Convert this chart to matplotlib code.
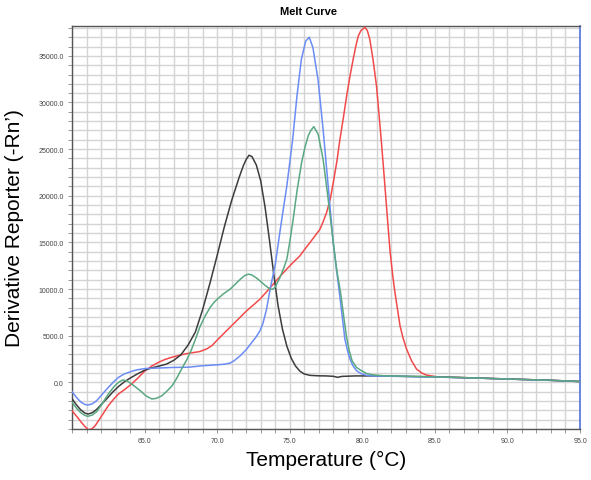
import matplotlib
matplotlib.use("Agg")
import matplotlib.pyplot as plt
from matplotlib.ticker import MultipleLocator, FixedLocator

plt.rcParams['font.family'] = ['Liberation Sans', 'DejaVu Sans']

# ---- data ----
black_t = [60.0, 60.3, 60.6, 60.9, 61.1, 61.4, 61.7, 62.0, 62.4, 62.8, 63.2, 63.6, 64.0, 64.5,
           65.0, 65.5, 66.0, 66.5, 67.0, 67.5, 68.0, 68.5, 69.0, 69.5, 70.0, 70.5, 71.0, 71.5,
           71.8, 72.0, 72.2, 72.4, 72.7, 73.0, 73.3, 73.6, 73.9, 74.2, 74.5, 74.8, 75.1, 75.4,
           75.7, 76.0, 76.4, 77.0, 77.5, 78.0, 78.3, 78.6, 79.5, 81.0, 85.0, 88.0, 90.0, 93.0,
           95.0]
black_v = [-1750, -2400, -2950, -3300, -3400, -3250, -2900, -2400, -1750, -1050, -450, 50, 450, 900,
           1300, 1550, 1750, 1950, 2350, 2950, 4000, 5400, 7800, 10600, 13600, 16700, 19500, 21900,
           23200, 23900, 24350, 24200, 23300, 21600, 18800, 15300, 11600, 8200, 5700, 3900, 2600, 1750,
           1200, 900, 750, 700, 690, 650, 540, 640, 690, 690, 590, 460, 360, 220,
           90]

blue_t = [60.0, 60.3, 60.6, 60.9, 61.1, 61.4, 61.7, 62.1, 62.5, 62.9, 63.2, 63.6, 64.1, 64.5,
          65.0, 65.5, 66.0, 67.0, 68.0, 69.0, 70.0, 70.5, 70.9, 71.2, 71.6, 72.0, 72.3, 72.7,
          72.95, 73.15, 73.4, 73.65, 74.0, 74.35, 74.8, 75.2, 75.5, 75.8, 76.1, 76.35, 76.6,
          76.95, 77.3, 77.65, 78.0, 78.45, 78.8, 79.0, 79.15, 79.35, 79.6, 79.9, 80.3, 80.8,
          85.0, 88.0, 90.0, 93.0, 95.0]
blue_v = [-1000, -1600, -2100, -2380, -2430, -2300, -1960, -1250, -540, 100, 530, 900, 1180, 1350,
          1470, 1520, 1540, 1600, 1620, 1780, 1880, 1950, 2070, 2350, 2860, 3500, 4100, 4900,
          5530, 6300, 7800, 9990, 12600, 16400, 21050, 26000, 30700, 34600, 36580, 37000, 35870,
          32470, 27120, 21050, 14900, 9270, 4640, 3300, 2500, 1800, 1250, 950, 750, 690,
          570, 450, 350, 210, 80]

green_t = [60.0, 60.3, 60.6, 60.9, 61.1, 61.4, 61.7, 62.1, 62.5, 62.9, 63.2, 63.5, 63.8, 64.1,
           64.4, 64.7, 65.1, 65.5, 65.8, 66.2, 66.5, 66.9, 67.2, 67.55, 67.9, 68.2, 68.5, 68.8,
           69.1, 69.5, 69.8, 70.0, 70.4, 70.9, 71.3, 71.6, 71.9, 72.15, 72.4, 72.7, 72.95, 73.3,
           73.65, 73.85, 74.0, 74.33, 74.6, 74.8, 75.0, 75.24, 75.5, 75.82, 76.05, 76.27, 76.45,
           76.66, 76.96, 77.3, 77.65, 78.0, 78.23, 78.5, 78.9, 79.1, 79.3, 79.6, 79.95, 80.3,
           80.7, 81.5, 85.0, 88.0, 90.0, 93.0, 95.0]
green_v = [-2140, -2750, -3250, -3560, -3640, -3500, -3140, -2250, -1250, -450, 0, 260, 150, -180,
           -520, -890, -1450, -1780, -1720, -1430, -1000, -360, 400, 1430, 2400, 3390, 4600, 5900,
           6900, 8000, 8600, 8900, 9450, 10000, 10600, 11060, 11450, 11600, 11500, 11200, 10880, 10400,
           9990, 10000, 10200, 11240, 12300, 13200, 15000, 17500, 20500, 23560, 25200, 26410, 27000,
           27410, 26590, 23910, 19630, 15000, 12130, 9640, 4990, 3400, 2310, 1600, 1240, 950,
           810, 700, 590, 460, 360, 220, 90]

red_t = [60.0, 60.3, 60.6, 60.9, 61.15, 61.4, 61.6, 62.0, 62.5, 62.9, 63.2, 63.6, 64.1, 64.5,
         65.0, 65.5, 65.95, 66.4, 66.9, 67.4, 67.8, 68.3, 68.8, 69.3, 69.65, 69.96, 70.4, 70.88,
         71.5, 72.03, 72.5, 72.95, 73.4, 73.87, 74.3, 74.79, 75.2, 75.7, 76.1, 76.5, 77.08,
         77.3, 77.54, 77.8, 78.0, 78.25, 78.46, 78.7, 78.92, 79.15, 79.37, 79.55, 79.72, 79.9,
         80.18, 80.35, 80.52, 80.75, 80.98, 81.25, 81.45, 81.63, 81.9, 82.1, 82.25, 82.45,
         82.6, 82.8, 83.05, 83.4, 83.74, 84.1, 84.43, 85.12, 88.0, 90.0, 93.0, 95.0]
red_v = [-3040, -3600, -4200, -4750, -5100, -4950, -4640, -3700, -2500, -1750, -1250, -800, -180, 400,
         1200, 1750, 2140, 2450, 2700, 2900, 3050, 3180, 3300, 3600, 3950, 4460, 5150, 5890,
         6850, 7670, 8300, 8920, 9700, 10530, 11300, 12130, 12800, 13560, 14400, 15200, 16400,
         17200, 18200, 19700, 21400, 23700, 26050, 28400, 30690, 32800, 34620, 36000, 37110, 37700,
         38050, 37700, 36760, 34500, 31760, 27000, 23200, 19630, 14270, 11400, 9640, 7600,
         6060, 4800, 3570, 2300, 1420, 1000, 780, 600, 460, 360, 220, 90]

x_ticks = [65.0, 70.0, 75.0, 80.0, 85.0, 90.0, 95.0]
y_ticks = [0.0, 5000.0, 10000.0, 15000.0, 20000.0, 25000.0, 30000.0, 35000.0]

# ---- figure ----
fig = plt.figure(figsize=(5.91, 4.81), dpi=100)
ax = fig.add_axes([72/591, 1-430/481, (580-72)/591, (430-27)/481])

ax.plot(red_t, red_v, color='#f24a4a', lw=1.1, zorder=3)
ax.plot(black_t, black_v, color='#3c3c3c', lw=1.1, zorder=3)
ax.plot(blue_t, blue_v, color='#6b8cf5', lw=1.1, zorder=3)
ax.plot(green_t, green_v, color='#5aa882', lw=1.1, zorder=3)

ax.set_xlim(60, 95)
ax.set_ylim(-5000, 38200)

ax.xaxis.set_major_locator(FixedLocator(x_ticks))
ax.yaxis.set_major_locator(FixedLocator(y_ticks))
ax.xaxis.set_minor_locator(MultipleLocator(1))
ax.yaxis.set_minor_locator(MultipleLocator(1000))
ax.set_xticklabels([f"{v:.1f}" for v in x_ticks], fontsize=5, color='#444444')
ax.set_yticklabels([f"{v:.1f}" for v in y_ticks], fontsize=5, color='#444444')
ax.tick_params(which='both', direction='out', length=3, width=0.6, color='#888888', pad=3)

ax.grid(which='both', color='#d4d4d4', lw=1.0, zorder=0)
ax.set_axisbelow(True)

for s in ['left', 'bottom', 'top']:
    ax.spines[s].set_color('#555555')
    ax.spines[s].set_linewidth(1.0)
ax.spines['right'].set_color('#4f72d8')
ax.spines['right'].set_linewidth(1.2)
ax.spines['right'].set_linestyle((0, (3, 1)))

fig.text(308/591, 1-12/481, 'Melt Curve', ha='center', va='center',
         fontsize=8, fontweight='bold')
ax.set_xlabel('Temperature (°C)', fontsize=15, labelpad=4)
ax.set_ylabel('Derivative Reporter (-Rn’)', fontsize=15, labelpad=10)

fig.savefig('out.png', dpi=100)
